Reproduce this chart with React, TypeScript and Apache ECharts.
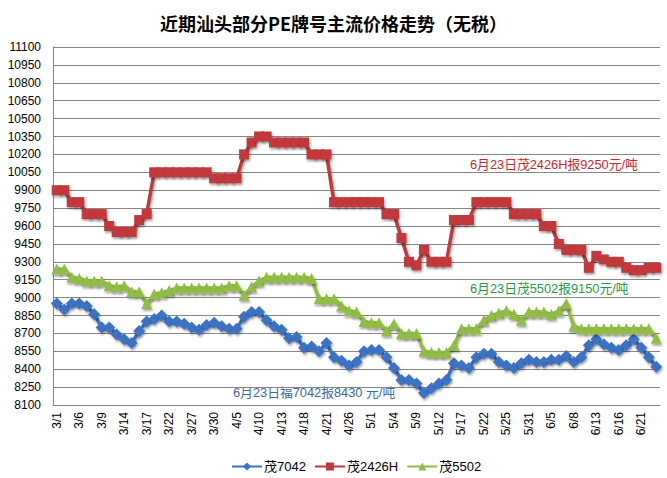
import React, { useEffect, useRef } from "react";
import * as echarts from "echarts";

const categories = [
  "3/1", "3/2", "3/5", "3/6", "3/7", "3/8", "3/9", "3/12", "3/13", "3/14",
  "3/15", "3/16", "3/17", "3/19", "3/20", "3/22", "3/23", "3/26", "3/27", "3/28",
  "3/29", "3/30", "4/2", "4/3", "4/5", "4/6", "4/9", "4/10", "4/11", "4/12",
  "4/13", "4/16", "4/17", "4/18", "4/19", "4/20", "4/21", "4/23", "4/24", "4/26",
  "4/27", "4/28", "5/1", "5/2", "5/3", "5/4", "5/7", "5/8", "5/9", "5/10",
  "5/11", "5/12", "5/15", "5/16", "5/17", "5/18", "5/21", "5/22", "5/23", "5/24",
  "5/25", "5/28", "5/29", "5/31", "6/1", "6/4", "6/5", "6/6", "6/7", "6/8",
  "6/11", "6/12", "6/13", "6/14", "6/15", "6/16", "6/18", "6/19", "6/21", "6/22",
  "6/23",
];

const mao7042 = [
  8950, 8900, 8950, 8950, 8930, 8860, 8750, 8750, 8690, 8650,
  8620, 8720, 8800, 8820, 8850, 8800, 8800, 8780, 8750, 8730,
  8770, 8790, 8760, 8740, 8740, 8840, 8880, 8880, 8810, 8760,
  8730, 8660, 8670, 8580, 8590, 8550, 8620, 8500, 8470, 8430,
  8460, 8550, 8560, 8560, 8500, 8410, 8310, 8310, 8280, 8200,
  8240, 8280, 8310, 8450, 8430, 8410, 8500, 8530, 8530, 8460,
  8430, 8410, 8450, 8480, 8460, 8460, 8480, 8480, 8510, 8460,
  8500, 8600, 8650, 8610, 8580, 8560, 8600, 8650, 8580, 8500,
  8420,
];

const mao2426H = [
  9900, 9900, 9800, 9800, 9700, 9700, 9700, 9600, 9550, 9550,
  9550, 9650, 9700, 10050, 10050, 10050, 10050, 10050, 10050, 10050,
  10050, 10000, 10000, 10000, 10000, 10200, 10300, 10350, 10350, 10300,
  10300, 10300, 10300, 10300, 10200, 10200, 10200, 9800, 9800, 9800,
  9800, 9800, 9800, 9800, 9700, 9700, 9500, 9300, 9270, 9400,
  9300, 9300, 9300, 9650, 9650, 9650, 9800, 9800, 9800, 9800,
  9800, 9700, 9700, 9700, 9700, 9600, 9600, 9450, 9400, 9400,
  9400, 9250, 9350, 9320, 9300, 9300, 9250, 9230, 9230, 9250,
  9250,
];

const mao5502 = [
  9240, 9240, 9170, 9160, 9140, 9140, 9140, 9100, 9090, 9100,
  9050, 9050, 8950, 9030, 9040, 9060, 9080, 9080, 9080, 9080,
  9080, 9080, 9080, 9100, 9100, 9020, 9090, 9140, 9170, 9170,
  9170, 9170, 9170, 9170, 9160, 8990, 8990, 8990, 8930, 8890,
  8880, 8800, 8790, 8790, 8720, 8780, 8700, 8700, 8700, 8550,
  8540, 8540, 8540, 8600, 8740, 8740, 8740, 8810, 8850, 8870,
  8890, 8860, 8810, 8880, 8880, 8880, 8860, 8890, 8950, 8760,
  8740, 8740, 8740, 8740, 8740, 8740, 8740, 8740, 8740, 8740,
  8660,
];

const seriesNames = ["茂7042", "茂2426H", "茂5502"];
const titleText = "近期汕头部分PE牌号主流价格走势（无税）";
const noteRed = "6月23日茂2426H报9250元/吨";
const noteGreen = "6月23日茂5502报9150元/吨";
const noteBlue = "6月23日福7042报8430 元/吨";

const FONT = '"Liberation Sans", "Noto Sans CJK SC", sans-serif';

export default function App() {
  const ref = useRef<HTMLDivElement>(null);

  useEffect(() => {
    if (!ref.current) return;
    const chart = echarts.init(ref.current, null, { renderer: "svg" });
    const shadow = {
      shadowColor: "rgba(0,0,0,0.35)",
      shadowBlur: 2,
      shadowOffsetX: 1,
      shadowOffsetY: 2,
    };
    const mk = (name: string, data: number[], color: string, symbol: string, size: number) => ({
      name,
      type: "line",
      data,
      symbol,
      symbolSize: size,
      showSymbol: true,
      showAllSymbol: true,
      lineStyle: { color, width: 3.5, ...shadow },
      itemStyle: { color, borderWidth: 0, ...shadow },
      emphasis: { disabled: true },
    });
    chart.setOption({
      animation: false,
      backgroundColor: "#ffffff",
      textStyle: { fontFamily: FONT },
      title: {
        text: titleText,
        left: "center",
        top: 9,
        textStyle: { fontSize: 18, fontWeight: "bold", color: "#000", fontFamily: '"Noto Sans CJK SC", sans-serif' },
      },
      legend: {
        data: seriesNames,
        top: 455,
        left: 226,
        itemWidth: 30,
        itemHeight: 10,
        itemGap: 8,
        textStyle: { fontSize: 13, color: "#000", fontFamily: FONT, padding: [0, 0, 0, -3] },
      },
      grid: { left: 53, right: 7, top: 47, bottom: 73, containLabel: false },
      xAxis: {
        type: "category",
        data: categories,
        boundaryGap: true,
        axisLine: { show: true, lineStyle: { color: "#868686", width: 1 } },
        axisTick: { show: false },
        axisLabel: { interval: 2, rotate: 90, margin: 7, fontSize: 12, color: "#000", fontFamily: FONT },
        splitLine: { show: false },
      },
      yAxis: {
        type: "value",
        min: 8100,
        max: 11100,
        interval: 150,
        axisLine: { show: true, lineStyle: { color: "#868686", width: 1 } },
        axisTick: { show: false },
        axisLabel: {
          margin: 12,
          fontSize: 12,
          color: "#000",
          fontFamily: FONT,
          formatter: (v: number) => String(v),
        },
        splitLine: { show: true, lineStyle: { color: "#868686", width: 1 } },
      },
      series: [
        mk(seriesNames[0], mao7042, "#3b72c4", "diamond", 12),
        mk(seriesNames[1], mao2426H, "#c2383a", "rect", 10),
        mk(seriesNames[2], mao5502, "#92bd45", "triangle", 11),
      ],
      graphic: [
        { type: "text", left: 470, top: 158, style: { text: noteRed, fill: "#c8282d", font: `12.8px ${FONT}` } },
        { type: "text", left: 470, top: 282, style: { text: noteGreen, fill: "#1f9a4a", font: `12.8px ${FONT}` } },
        { type: "text", left: 233, top: 386, style: { text: noteBlue, fill: "#3d6a9c", font: `12.8px ${FONT}` } },
      ],
    });
    return () => chart.dispose();
  }, []);

  return (
    <div
      ref={ref}
      style={{ position: "absolute", left: 0, top: 0, width: 667, height: 478, background: "#fff" }}
    />
  );
}
